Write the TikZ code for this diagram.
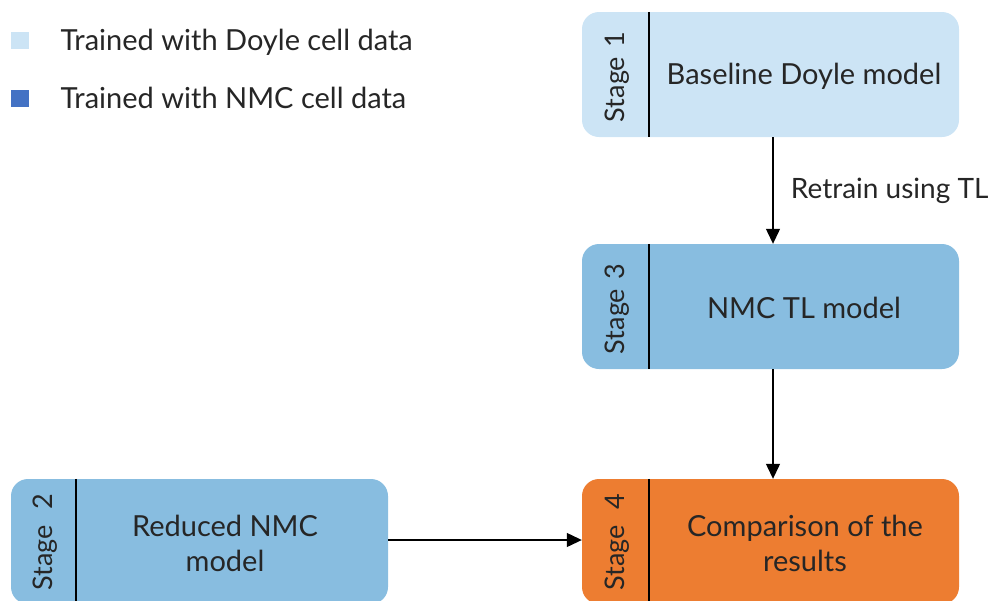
\documentclass[tikz,border=0pt]{standalone}
\usepackage{fontspec}
\setmainfont{Lato}
\usetikzlibrary{arrows.meta}
\definecolor{cLight}{RGB}{204,228,245}
\definecolor{cMid}{RGB}{136,189,224}
\definecolor{cOrange}{RGB}{237,125,49}
\definecolor{cDark}{RGB}{68,114,196}
\begin{document}
\begin{tikzpicture}[x=1pt,y=-1pt,
  stagebox/.style={rectangle,rounded corners=17pt,minimum width=377pt,minimum height=125pt,inner sep=0pt,draw=none},
  maintext/.style={font=\fontsize{29}{35}\selectfont,align=center,text=black!85},
  stagelabel/.style={font=\fontsize{27}{30}\selectfont,rotate=90,text=black!85},
  divider/.style={line width=2.4pt,black},
  arr/.style={line width=1.2pt,-{Triangle[width=14pt,length=15pt]}},
  legbox/.style={rectangle,minimum width=18pt,minimum height=17pt,inner sep=0pt},
  legtext/.style={font=\fontsize{29}{32}\selectfont,anchor=west,text=black!85}]
\useasboundingbox (0,0) rectangle (1001,600);
\clip (0,0) rectangle (1001,600);
% legend
\node[legbox,fill=cLight] (l1) at (20,40.5) {};
\node[legbox,fill=cDark] (l2) at (20,98.5) {};
\node[legtext] (lt1) at (57,42) {Trained with Doyle cell data};
\node[legtext] (lt2) at (57,98) {Trained with NMC cell data};
% boxes
\node[stagebox,fill=cLight] (s1) at (770.5,74.5) {};
\node[stagebox,fill=cMid] (s3) at (770.5,306.5) {};
\node[stagebox,fill=cMid] (s2) at (199.5,541.5) {};
\node[stagebox,fill=cOrange] (s4) at (770.5,541.5) {};
% dividers
\foreach \b in {s1,s3,s4}{
  \draw[divider] ([xshift=67pt]\b.north west) -- ([xshift=67pt]\b.south west);
}
\draw[divider] ([xshift=65pt]s2.north west) -- ([xshift=65pt]s2.south west);
% stage labels
\node[stagelabel] (sl1) at (617,77) {Stage\hspace{0.35em}1};
\node[stagelabel] (sl3) at (617,309) {Stage\hspace{0.35em}3};
\node[stagelabel] (sl2) at (45,542) {Stage\hspace{0.6em}2};
\node[stagelabel] (sl4) at (617,542) {Stage\hspace{0.6em}4};
% main texts
\node[maintext] (t1) at (804,76) {Baseline Doyle model};
\node[maintext] (t3) at (804,308) {NMC TL model};
\node[maintext] (t2) at (225,543) {Reduced NMC\\model};
\node[maintext] (t4) at (805,543) {Comparison of the\\results};
% arrows
\draw[arr] ([xshift=2.5pt]s1.south) -- node[right=14pt,font=\fontsize{28}{30}\selectfont,text=black!85] (lab) {Retrain using TL} ([xshift=2.5pt]s3.north);
\draw[arr] ([xshift=2.5pt]s3.south) -- ([xshift=2.5pt]s4.north);
\draw[arr] ([yshift=1.5pt]s2.east) -- ([yshift=1.5pt]s4.west);
\end{tikzpicture}
\end{document}
